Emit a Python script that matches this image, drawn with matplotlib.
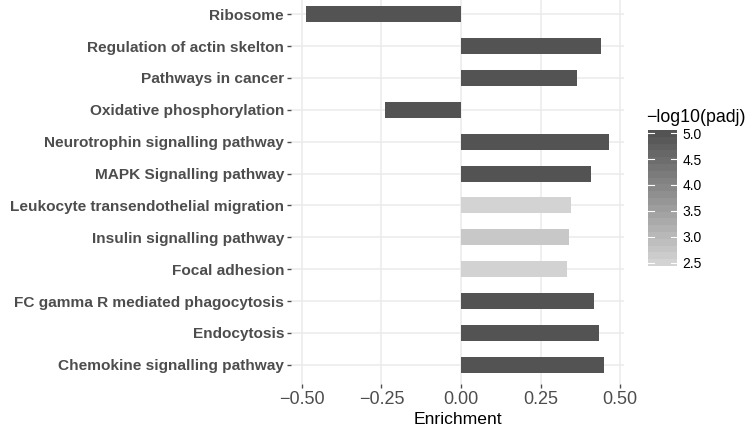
import numpy as np
import matplotlib
matplotlib.use("Agg")
import matplotlib.pyplot as plt
from matplotlib.colors import LinearSegmentedColormap, Normalize

plt.rcParams['font.family'] = ['Liberation Sans', 'DejaVu Sans']

# pathways, listed bottom to top
pathways = ["Chemokine signalling pathway", "Endocytosis",
            "FC gamma R mediated phagocytosis", "Focal adhesion",
            "Insulin signalling pathway", "Leukocyte transendothelial migration",
            "MAPK Signalling pathway", "Neurotrophin signalling pathway",
            "Oxidative phosphorylation", "Pathways in cancer",
            "Regulation of actin skelton", "Ribosome"]
enrichment = [0.448, 0.433, 0.417, 0.332, 0.339, 0.345,
              0.408, 0.464, -0.238, 0.364, 0.439, -0.486]
neg_log_padj = [5.06, 5.06, 5.06, 2.45, 2.66, 2.436,
                5.06, 5.06, 5.06, 5.06, 5.06, 5.06]
cbar_ticks = [2.5, 3.0, 3.5, 4.0, 4.5, 5.0]

cmap = LinearSegmentedColormap.from_list("greys", ["#D3D3D3", "#535353"])
vmin, vmax = min(neg_log_padj), max(neg_log_padj)
norm = Normalize(vmin, vmax)

fig = plt.figure(figsize=(7.49, 4.38), dpi=100)
ax = fig.add_axes([0.3885, 0.1233, 0.4446, 0.888])

ypos = np.arange(len(pathways))
ax.barh(ypos, enrichment, height=0.5, color=cmap(norm(neg_log_padj)), zorder=3)

ax.set_xlim(-0.534, 0.512)
ax.set_ylim(-0.6, len(pathways) - 0.4)
ax.set_xticks([-0.5, -0.25, 0, 0.25, 0.5])
ax.set_xticklabels(["\u22120.50", "\u22120.25", "0.00", "0.25", "0.50"])
ax.set_yticks(ypos)
ax.set_yticklabels(pathways, fontweight='bold')
ax.grid(True, color="#EBEBEB", linewidth=1.1, zorder=0)
for s in ax.spines.values():
    s.set_visible(False)
ax.tick_params(axis='x', colors="#4D4D4D", labelsize=13, length=3, width=1, pad=2)
ax.tick_params(axis='y', colors="#4D4D4D", labelsize=11.1, length=3, width=1, pad=2)
for lab in ax.get_xticklabels() + ax.get_yticklabels():
    lab.set_color("#4D4D4D")
ax.set_xlabel("Enrichment", fontsize=12.6, color="black", labelpad=3)

# colour bar, binned like a ggplot legend
cax = fig.add_axes([0.865, 0.3927, 0.0387, 0.3105])
grad = np.linspace(vmin, vmax, 20)[:, None]
cax.imshow(grad, extent=[0, 1, vmin, vmax], origin='lower', aspect='auto',
           cmap=cmap, norm=norm)
cax.set_xlim(0, 1)
cax.set_ylim(vmin, vmax)
for t in cbar_ticks:
    cax.plot([0, 0.2], [t, t], color="white", lw=0.8)
    cax.plot([0.8, 1], [t, t], color="white", lw=0.8)
cax.set_xticks([])
cax.set_yticks(cbar_ticks)
cax.set_yticklabels([f"{t:.1f}" for t in cbar_ticks])
cax.yaxis.tick_right()
cax.tick_params(axis='y', length=0, labelsize=10, pad=4, colors="black")
for s in cax.spines.values():
    s.set_visible(False)
fig.text(0.863, 0.713, "\u2212log10(padj)", fontsize=12.8, ha='left', va='bottom')

fig.savefig("out.png", dpi=100)
